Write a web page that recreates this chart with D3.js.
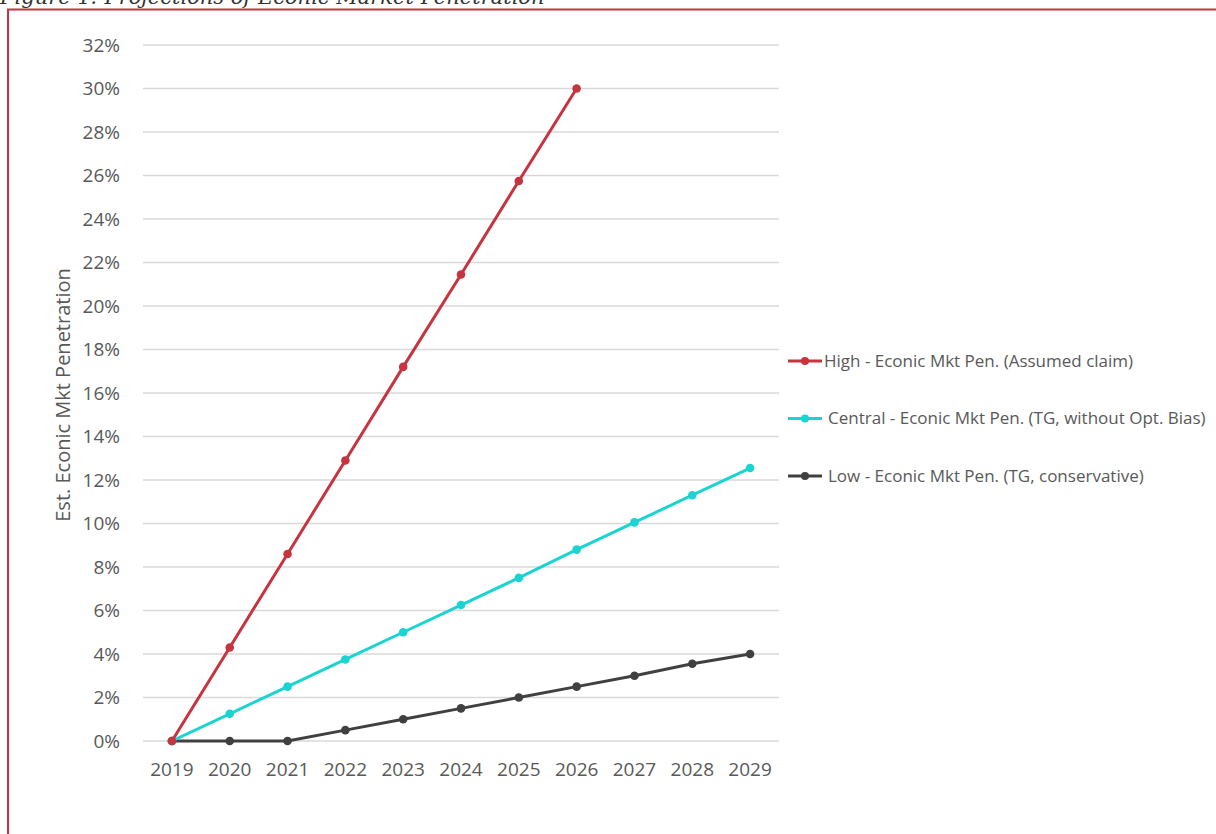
<!DOCTYPE html>
<html>
<head>
<meta charset="utf-8">
<script src="https://cdn.jsdelivr.net/npm/d3@7"></script>
<style>
  body { margin: 0; background: #fff; }
  svg { display: block; }
  text { font-family: "Open Sans", Lato, sans-serif; fill: #595959; }
</style>
</head>
<body>
<svg id="chart" width="1216" height="834"></svg>
<script>
const years = ["2019","2020","2021","2022","2023","2024","2025","2026","2027","2028","2029"];
const highVals = [0, 4.3, 8.6, 12.9, 17.2, 21.45, 25.75, 30.0];
const centralVals = [0, 1.25, 2.5, 3.75, 5.0, 6.25, 7.5, 8.8, 10.05, 11.3, 12.55];
const lowVals = [0, 0, 0, 0.5, 1.0, 1.5, 2.0, 2.5, 3.0, 3.55, 4.0];
const yTicks = [0, 2, 4, 6, 8, 10, 12, 14, 16, 18, 20, 22, 24, 26, 28, 30, 32];

const seriesNames = [
  "High - Econic Mkt Pen. (Assumed claim)",
  "Central - Econic Mkt Pen. (TG, without Opt. Bias)",
  "Low - Econic Mkt Pen. (TG, conservative)"
];
const colors = ["#c5343f", "#1ad4d2", "#404040"];
const allSeries = [highVals, centralVals, lowVals];

const svg = d3.select("#chart");

// figure caption and frame
svg.append("text")
  .attr("x", 0).attr("y", 4)
  .style("font-family", "'DejaVu Serif', Georgia, serif")
  .style("font-style", "italic")
  .style("font-size", "21px")
  .style("fill", "#333")
  .text("Figure 1: Projections of Econic Market Penetration");

svg.append("rect")
  .attr("x", 8).attr("y", 9.5)
  .attr("width", 1300).attr("height", 900)
  .attr("fill", "none")
  .attr("stroke", "#c5343f")
  .attr("stroke-width", 2);

const plot = {left: 143, right: 779, top: 45, bottom: 741};

const xScale = d3.scaleBand()
  .domain(years)
  .range([plot.left, plot.right]);

const yScale = d3.scaleLinear()
  .domain([0, 32])
  .range([plot.bottom, plot.top]);

// gridlines
svg.append("g")
  .selectAll("line")
  .data(yTicks)
  .enter().append("line")
  .attr("x1", plot.left).attr("x2", plot.right)
  .attr("y1", d => yScale(d)).attr("y2", d => yScale(d))
  .attr("stroke", "#d9d9d9")
  .attr("stroke-width", 1.3);

const yAxis = d3.axisLeft(yScale)
  .tickValues(yTicks)
  .tickFormat(d => d + "%")
  .tickSize(0)
  .tickPadding(23);

svg.append("g")
  .attr("transform", "translate(" + plot.left + ",0)")
  .call(yAxis)
  .call(g => g.select(".domain").remove())
  .selectAll("text")
  .style("font-size", "19px")
  .style("fill", "#595959");

const xAxis = d3.axisBottom(xScale)
  .tickSize(0)
  .tickPadding(22);

svg.append("g")
  .attr("transform", "translate(0," + plot.bottom + ")")
  .call(xAxis)
  .call(g => g.select(".domain").remove())
  .selectAll("text")
  .style("font-size", "19px")
  .style("fill", "#595959");

svg.append("text")
  .attr("transform", "translate(70," + ((plot.top + plot.bottom) / 2 + 2) + ") rotate(-90)")
  .attr("text-anchor", "middle")
  .style("font-size", "20px")
  .text("Est. Econic Mkt Penetration");

const line = d3.line()
  .x((d, i) => xScale(years[i]) + xScale.bandwidth() / 2)
  .y(d => yScale(d));

// draw low first so high sits on top
[2, 1, 0].forEach(function(s) {
  const vals = allSeries[s];
  svg.append("path")
    .datum(vals)
    .attr("d", line)
    .attr("fill", "none")
    .attr("stroke", colors[s])
    .attr("stroke-width", 3);

  svg.append("g")
    .selectAll("circle")
    .data(vals)
    .enter().append("circle")
    .attr("cx", (d, i) => xScale(years[i]) + xScale.bandwidth() / 2)
    .attr("cy", d => yScale(d))
    .attr("r", 4.3)
    .attr("fill", colors[s]);
});

// legend
const legend = svg.append("g")
  .selectAll("g")
  .data(seriesNames)
  .enter().append("g")
  .attr("transform", (d, i) => "translate(788," + (361 + i * 57.5) + ")");

legend.append("line")
  .attr("x1", 0).attr("x2", 34)
  .attr("stroke", (d, i) => colors[i])
  .attr("stroke-width", 3);

legend.append("circle")
  .attr("cx", 17).attr("r", 4)
  .attr("fill", (d, i) => colors[i]);

legend.append("text")
  .attr("x", (d, i) => i === 0 ? 36 : 40)
  .attr("dy", "0.35em")
  .style("font-size", "17px")
  .text(d => d);
</script>
</body>
</html>
